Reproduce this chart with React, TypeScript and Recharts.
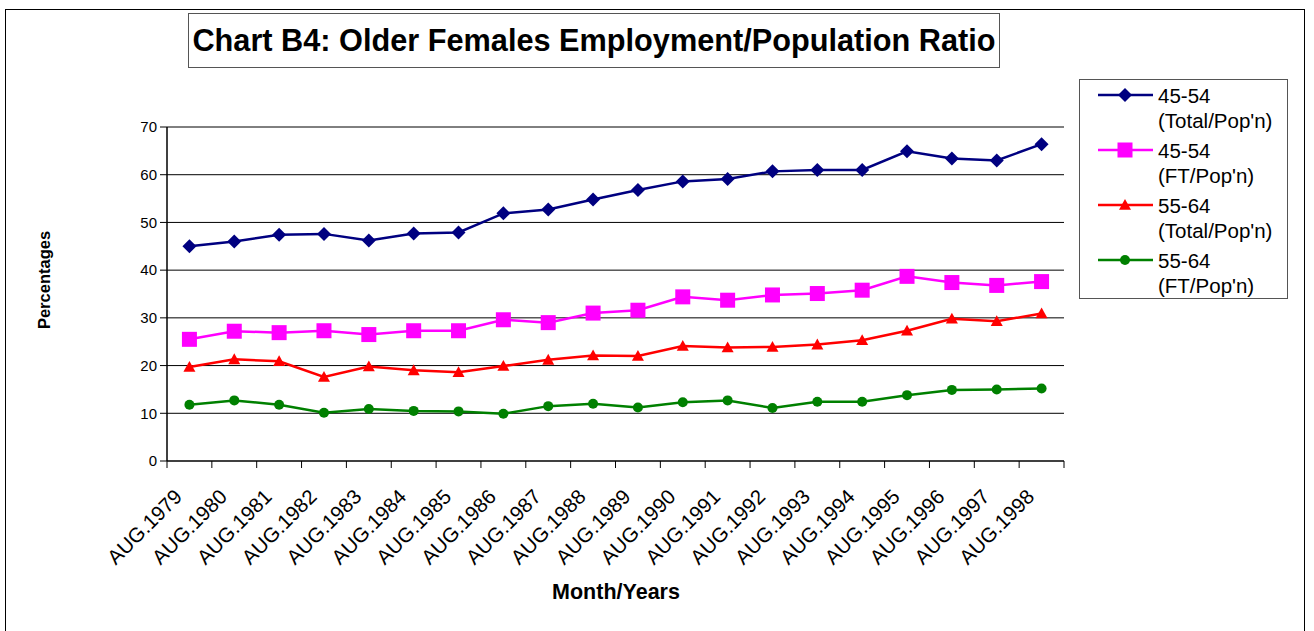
import React from 'react';
import { LineChart, Line, XAxis, YAxis, CartesianGrid } from 'recharts';

// categories and series
const CATEGORIES = [
  'AUG.1979', 'AUG.1980', 'AUG.1981', 'AUG.1982', 'AUG.1983', 'AUG.1984', 'AUG.1985',
  'AUG.1986', 'AUG.1987', 'AUG.1988', 'AUG.1989', 'AUG.1990', 'AUG.1991', 'AUG.1992',
  'AUG.1993', 'AUG.1994', 'AUG.1995', 'AUG.1996', 'AUG.1997', 'AUG.1998',
];
const TOTAL_45_54 = [45.0, 46.0, 47.4, 47.6, 46.2, 47.7, 47.9, 51.9, 52.7, 54.8, 56.8, 58.6, 59.1, 60.7, 61.0, 61.0, 64.9, 63.4, 63.0, 66.4];
const FT_45_54 = [25.5, 27.2, 26.9, 27.3, 26.5, 27.3, 27.3, 29.6, 29.0, 31.0, 31.6, 34.4, 33.7, 34.8, 35.1, 35.8, 38.7, 37.4, 36.8, 37.6];
const TOTAL_55_64 = [19.7, 21.3, 20.9, 17.6, 19.8, 19.0, 18.6, 19.9, 21.2, 22.1, 22.0, 24.1, 23.8, 23.9, 24.4, 25.3, 27.3, 29.8, 29.3, 30.9];
const FT_55_64 = [11.8, 12.7, 11.8, 10.1, 10.9, 10.5, 10.4, 9.9, 11.5, 12.0, 11.2, 12.3, 12.7, 11.1, 12.4, 12.4, 13.8, 14.9, 15.0, 15.2];
const Y_TICKS = [0, 10, 20, 30, 40, 50, 60, 70];

const FONT = '"Liberation Sans", Arial, Helvetica, sans-serif';
const W = 1314;
const H = 631;
const PLOT = { left: 167, right: 1064, top: 127, bottom: 461 };
const BAND = (PLOT.right - PLOT.left) / CATEGORIES.length;

const data = CATEGORIES.map((name, i) => ({
  i,
  name,
  t4554: TOTAL_45_54[i],
  f4554: FT_45_54[i],
  t5564: TOTAL_55_64[i],
  f5564: FT_55_64[i],
}));

type MarkerProps = { cx?: number; cy?: number; color: string };

function Diamond({ cx = 0, cy = 0, color }: MarkerProps) {
  const r = 7;
  return <polygon points={`${cx},${cy - r} ${cx + r},${cy} ${cx},${cy + r} ${cx - r},${cy}`} fill={color} />;
}
function Square({ cx = 0, cy = 0, color }: MarkerProps) {
  const s = 7.5;
  return <rect x={cx - s} y={cy - s} width={s * 2} height={s * 2} fill={color} />;
}
function Triangle({ cx = 0, cy = 0, color }: MarkerProps) {
  const r = 6;
  return <polygon points={`${cx},${cy - r} ${cx + r},${cy + r * 0.8} ${cx - r},${cy + r * 0.8}`} fill={color} />;
}
function Dot({ cx = 0, cy = 0, color }: MarkerProps) {
  return <circle cx={cx} cy={cy} r={5} fill={color} />;
}

const SERIES = [
  { key: 't4554', label: ['45-54', "(Total/Pop'n)"], color: '#000080', Marker: Diamond },
  { key: 'f4554', label: ['45-54', "(FT/Pop'n)"], color: '#FF00FF', Marker: Square },
  { key: 't5564', label: ['55-64', "(Total/Pop'n)"], color: '#FF0000', Marker: Triangle },
  { key: 'f5564', label: ['55-64', "(FT/Pop'n)"], color: '#008000', Marker: Dot },
];

function XTick(props: any) {
  const { x, y, payload } = props;
  const last = payload.value === CATEGORIES.length - 1;
  const tx = x - 6;
  const ty = y + 37;
  return (
    <g>
      <line x1={x - BAND / 2} x2={x - BAND / 2} y1={y} y2={y + 7} stroke="#000" />
      {last && <line x1={x + BAND / 2} x2={x + BAND / 2} y1={y} y2={y + 7} stroke="#000" />}
      <text x={tx} y={ty} textAnchor="end" transform={`rotate(-45 ${tx} ${ty})`}
        fontSize={20.5} fontFamily={FONT} fill="#000">
        {CATEGORIES[payload.value]}
      </text>
    </g>
  );
}

function LegendBox() {
  return (
    <svg width={209} height={220} style={{ position: 'absolute', left: 1079, top: 79, border: '1.5px solid #555', boxSizing: 'border-box', background: '#fff' }}>
      {SERIES.map((s, k) => {
        const ly = 15 + 55 * k;
        return (
          <g key={s.key}>
            <line x1={18} x2={73} y1={ly} y2={ly} stroke={s.color} strokeWidth={2.5} />
            <s.Marker cx={45} cy={ly} color={s.color} />
            <text x={78} y={23 + 55 * k} fontSize={20.5} fontFamily={FONT} fill="#000">{s.label[0]}</text>
            <text x={78} y={48 + 55 * k} fontSize={20.5} fontFamily={FONT} fill="#000">{s.label[1]}</text>
          </g>
        );
      })}
    </svg>
  );
}

export default function App() {
  const domainX: [number, number] = [-0.5, CATEGORIES.length - 0.5];
  return (
    <div style={{ position: 'absolute', left: 0, top: 0, width: W, height: H, overflow: 'hidden', background: '#fff', fontFamily: FONT }}>
      <div style={{ position: 'absolute', left: 5, top: 9, width: 1300, height: 660, border: '1.5px solid #000', boxSizing: 'border-box' }} />
      <LineChart width={W} height={H} data={data}
        margin={{ top: PLOT.top, left: PLOT.left - 60, right: W - PLOT.right, bottom: H - PLOT.bottom - 100 }}
        style={{ position: 'absolute', left: 0, top: 0 }}>
        <CartesianGrid vertical={false} stroke="#000" strokeWidth={1} />
        <XAxis type="number" dataKey="i" domain={domainX} ticks={CATEGORIES.map((_, i) => i)} interval={0}
          allowDataOverflow tickLine={false} tickSize={0} tickMargin={0} tick={<XTick />} height={100}
          axisLine={{ stroke: '#404040', strokeWidth: 2 }} />
        <XAxis xAxisId="top" orientation="top" type="number" domain={domainX} height={0}
          tick={false} tickLine={false} axisLine={{ stroke: '#808080', strokeWidth: 2 }} />
        <YAxis domain={[0, 70]} ticks={Y_TICKS} width={60} tickSize={7} tickMargin={3}
          tick={{ fontSize: 15, fill: '#000', fontFamily: FONT }}
          tickLine={{ stroke: '#000' }} axisLine={{ stroke: '#000', strokeWidth: 1.5 }} />
        <YAxis yAxisId="right" orientation="right" domain={[0, 70]} width={0}
          tick={false} tickLine={false} axisLine={{ stroke: '#808080', strokeWidth: 2 }} />
        {SERIES.map((s) => (
          <Line key={s.key} dataKey={s.key} stroke={s.color} strokeWidth={2.5} isAnimationActive={false}
            dot={(p: any) => <s.Marker key={`${s.key}-${p.index}`} cx={p.cx} cy={p.cy} color={s.color} />}
            activeDot={false} />
        ))}
      </LineChart>
      <div style={{ position: 'absolute', left: 188, top: 13, width: 812, height: 55, border: '1.5px solid #555', boxSizing: 'border-box', display: 'flex', alignItems: 'center', justifyContent: 'center', fontSize: 30.7, fontWeight: 'bold', color: '#000', background: '#fff', whiteSpace: 'nowrap' }}>
        Chart B4: Older Females Employment/Population Ratio
      </div>
      <div style={{ position: 'absolute', left: 44, top: 280, transform: 'translate(-50%, -50%) rotate(-90deg)', fontSize: 16.5, fontWeight: 'bold', whiteSpace: 'nowrap' }}>
        Percentages
      </div>
      <div style={{ position: 'absolute', left: 616, top: 592, transform: 'translate(-50%, -50%)', fontSize: 21.5, fontWeight: 'bold', whiteSpace: 'nowrap' }}>
        Month/Years
      </div>
      <LegendBox />
    </div>
  );
}
